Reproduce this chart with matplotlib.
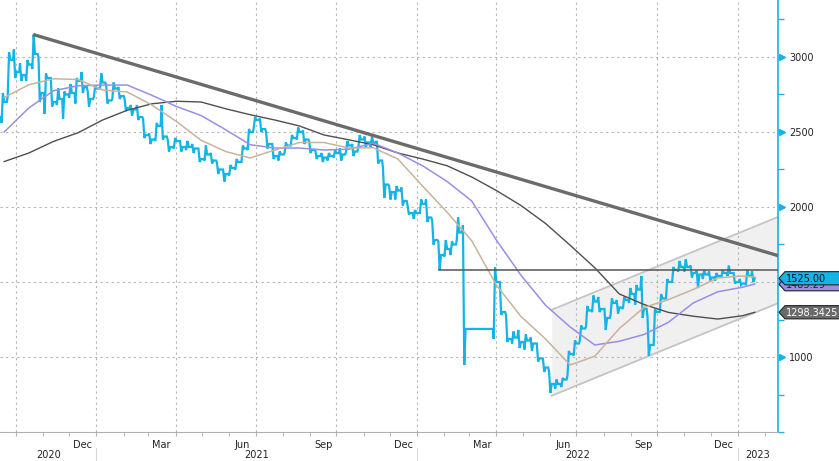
import matplotlib
matplotlib.use("Agg")
import matplotlib.pyplot as plt
from matplotlib.patches import Polygon
import pandas as pd

plt.rcParams['font.family'] = ['DejaVu Sans']

# ---------------- data (weekly bars) ----------------
week_start = '2020-09-18'
close = [2700, 2980, 2900, 2880, 2950, 3020, 2760, 2860, 2700, 2720,
         2750, 2760, 2840, 2800, 2720, 2790, 2830, 2710, 2790, 2740,
         2660, 2650, 2600, 2480, 2450, 2540, 2470, 2400, 2440, 2400,
         2400, 2390, 2320, 2350, 2310, 2250, 2220, 2260, 2300, 2390,
         2500, 2580, 2520, 2420, 2340, 2350, 2410, 2460, 2500, 2450,
         2380, 2340, 2330, 2340, 2360, 2350, 2410, 2370, 2450, 2430,
         2430, 2310, 2150, 2100, 2110, 2040, 1960, 1960, 2020, 1930,
         1780, 1680, 1720, 1750, 1830, 1187, 1187, 1187, 1187, 1187,
         1500, 1300, 1120, 1130, 1100, 1110, 1090, 990, 930, 820,
         820, 850, 1020, 1090, 1190, 1310, 1370, 1320, 1260, 1360,
         1330, 1380, 1420, 1450, 1320, 1080, 1300, 1390, 1500, 1580,
         1600, 1600, 1560, 1550, 1550, 1530, 1540, 1560, 1560, 1500,
         1490, 1540, 1525]
high = [2760, 3030, 3050, 2960, 2980, 3150, 3000, 2890, 2860, 2790,
        2770, 2820, 2860, 2900, 2770, 2810, 2890, 2810, 2830, 2800,
        2720, 2680, 2680, 2590, 2490, 2560, 2680, 2450, 2460, 2440,
        2440, 2420, 2390, 2410, 2360, 2300, 2250, 2280, 2320, 2410,
        2520, 2600, 2590, 2500, 2420, 2370, 2430, 2480, 2530, 2510,
        2440, 2380, 2360, 2360, 2380, 2390, 2440, 2420, 2480, 2470,
        2470, 2440, 2260, 2140, 2140, 2130, 2010, 1980, 2050, 2050,
        1910, 1770, 1780, 1770, 1930, 1880, 1187, 1187, 1187, 1187,
        1600, 1500, 1280, 1170, 1180, 1150, 1130, 1090, 990, 900,
        850, 860, 1040, 1110, 1210, 1340, 1410, 1400, 1320, 1390,
        1380, 1400, 1460, 1480, 1540, 1270, 1320, 1420, 1520, 1600,
        1640, 1650, 1610, 1580, 1580, 1570, 1560, 1580, 1610, 1560,
        1520, 1580, 1570]
low = [2560, 2740, 2860, 2840, 2840, 2920, 2700, 2620, 2670, 2680,
       2590, 2730, 2690, 2760, 2670, 2730, 2790, 2690, 2720, 2720,
       2640, 2610, 2580, 2460, 2420, 2440, 2450, 2370, 2390, 2370,
       2380, 2360, 2300, 2310, 2290, 2220, 2170, 2210, 2250, 2300,
       2380, 2530, 2500, 2390, 2320, 2310, 2360, 2410, 2450, 2420,
       2360, 2320, 2300, 2310, 2330, 2310, 2370, 2340, 2400, 2400,
       2400, 2290, 2060, 2050, 2050, 2010, 1950, 1920, 1960, 1900,
       1750, 1580, 1670, 1680, 1780, 947, 1187, 1187, 1187, 1187,
       1120, 1280, 1100, 1090, 1060, 1050, 1040, 970, 900, 760,
       790, 800, 880, 1010, 1110, 1200, 1300, 1300, 1180, 1280,
       1290, 1320, 1360, 1350, 1260, 1010, 1080, 1300, 1390, 1500,
       1570, 1570, 1530, 1460, 1520, 1510, 1510, 1530, 1540, 1490,
       1480, 1480, 1500]
first_open = 2600

# moving averages, sampled every 4 weeks (+ last week)
ma50 = [2730, 2815, 2855, 2850, 2780, 2767, 2680, 2570, 2445, 2370,
        2327, 2380, 2430, 2430, 2393, 2395, 2320, 2140, 1965, 1775,
        1480, 1270, 1120, 947, 1005, 1190, 1330, 1383, 1450, 1527,
        1540, 1533]
ma100 = [2500, 2660, 2775, 2808, 2813, 2813, 2745, 2670, 2610, 2515,
         2415, 2393, 2393, 2380, 2385, 2425, 2360, 2275, 2170, 2040,
         1780, 1545, 1345, 1200, 1080, 1105, 1150, 1232, 1360, 1435,
         1465, 1487]
ma200 = [2303, 2360, 2437, 2495, 2580, 2645, 2688, 2705, 2700, 2655,
         2615, 2580, 2540, 2480, 2448, 2415, 2360, 2320, 2275, 2200,
         2110, 2010, 1890, 1745, 1595, 1420, 1350, 1297, 1272, 1253,
         1275, 1298]

trend_dates = ['2020-10-21', '2023-02-16']
trend_vals = [3150, 1675]
hline_dates = ['2022-01-26', '2023-02-16']
hline_val = 1580
chan_dates = ['2022-06-03', '2023-02-16']
chan_low = [742, 1360]
chan_high = [1315, 1935]

last_price = 1525.00
last_ma100 = 1485.29
last_ma200 = 1298.3425

yticks = [1000, 1500, 2000, 2500, 3000]
month_labels = ['Dec', 'Mar', 'Jun', 'Sep', 'Dec', 'Mar', 'Jun', 'Sep', 'Dec']
month_label_dates = ['2020-12-16', '2021-03-16', '2021-06-16', '2021-09-16',
                     '2021-12-16', '2022-03-16', '2022-06-16', '2022-09-16',
                     '2022-12-16']
year_labels = ['2020', '2021', '2022', '2023']

# ---------------- colours ----------------
CYAN = '#14b5e6'
TAN = '#c8b39b'
PURPLE = '#9a8ee4'
DGRAY = '#4f4f4f'
TREND = '#6b6b6b'

dates = pd.date_range(week_start, periods=len(close), freq='7D')
opens = [first_open] + close[:-1]

# build a continuous OHLC zig-zag path
px, py = [], []
for d, o, h, l, c in zip(dates, opens, high, low, close):
    seq = [o, l, h, c] if c >= o else [o, h, l, c]
    offs = [-4, -3, -1.5, 0]
    for off, v in zip(offs, seq):
        px.append(d + pd.Timedelta(days=off))
        py.append(v)

ma_idx = list(range(0, len(close), 4))
if ma_idx[-1] != len(close) - 1:
    ma_idx.append(len(close) - 1)
ma_dates = dates[ma_idx]

fig = plt.figure(figsize=(8.39, 4.61), dpi=100)
ax = fig.add_axes([0, 29 / 461, 778 / 839, 432 / 461])

x0 = pd.Timestamp('2020-09-13 05:00')
x1 = pd.Timestamp('2023-02-15 12:00')
ax.set_xlim(x0, x1)
ax.set_ylim(500, 3380)

# channel
cd = pd.to_datetime(chan_dates)
ax.fill_between(cd, chan_low, chan_high, color='#f0f0f0', zorder=0.5, lw=0)
ax.plot(cd, chan_low, color='#c4c4c4', lw=1.3, zorder=1)
ax.plot(cd, chan_high, color='#c4c4c4', lw=1.3, zorder=1)

# grid
quarters = pd.date_range('2020-10-01', '2023-01-01', freq='QS')
months = pd.date_range('2020-10-01', '2023-02-01', freq='MS')
ax.set_xticks(quarters)
ax.set_xticks(months, minor=True)
ax.set_xticklabels([])
ax.tick_params(axis='x', which='both', length=3, color='#b0b0b0', labelbottom=False)
ax.grid(True, which='major', axis='both', color='#b5b5b5', lw=0.8,
        linestyle=(0, (2, 3)), zorder=0.8)
ax.set_axisbelow(True)

# y axis on right
ax.yaxis.tick_right()
ax.set_yticks(yticks)
ax.set_yticklabels([str(v) for v in yticks])
ax.set_yticks([500] + [v for v in range(750, 3300, 500)], minor=True)
ax.tick_params(axis='y', which='major', length=0, pad=8, labelsize=7, labelcolor='#222222')
ax.tick_params(axis='y', which='minor', length=4, width=1, color=CYAN, direction='out')
ytr = ax.get_yaxis_transform()
ax.plot([1.0 + 4 / 778] * len(yticks), yticks, linestyle='none', marker='>',
        markersize=4.5, color=CYAN, transform=ytr, clip_on=False, zorder=6)

for s in ['top', 'left']:
    ax.spines[s].set_visible(False)
ax.spines['right'].set_color(CYAN)
ax.spines['right'].set_linewidth(1.2)
ax.spines['bottom'].set_color('#b0b0b0')
ax.spines['bottom'].set_linestyle((0, (1, 1)))

# price
ax.plot(px, py, color=CYAN, lw=1.6, zorder=3, solid_joinstyle='miter')

# moving averages
ax.plot(ma_dates, ma200, color=DGRAY, lw=1.0, zorder=4)
ax.plot(ma_dates, ma100, color=PURPLE, lw=1.1, zorder=4)
ax.plot(ma_dates, ma50, color=TAN, lw=1.1, zorder=4)

# trend line and horizontal level
ax.plot(pd.to_datetime(trend_dates), trend_vals, color=TREND, lw=2.4, zorder=5,
        solid_capstyle='butt')
ax.plot(pd.to_datetime(hline_dates), [hline_val, hline_val], color='#555555',
        lw=1.1, zorder=4.5)

# x labels
xtr = ax.get_xaxis_transform()
for lab, d in zip(month_labels, pd.to_datetime(month_label_dates)):
    ax.text(d, -0.031, lab, transform=xtr, ha='center', va='center',
            fontsize=7, color='#222222', clip_on=False)
year_starts = pd.to_datetime(['2021-01-01', '2022-01-01', '2023-01-01'])
bounds = [x0] + list(year_starts) + [x1]
for lab, a, b in zip(year_labels, bounds[:-1], bounds[1:]):
    ax.text(a + (b - a) / 2, -0.053, lab, transform=xtr, ha='center', va='center',
            fontsize=7, color='#222222', clip_on=False)
for d in year_starts:
    ax.plot([d, d], [-0.038, -0.07], transform=xtr, color='#d8d8d8', lw=0.8,
            clip_on=False)

# value tags on the right
def tag(val, face, tc, txt, z):
    h = 44
    p = 1 / 778
    verts = [(1 + 1 * p, val), (1 + 7 * p, val + h), (1 + 80 * p, val + h),
             (1 + 80 * p, val - h), (1 + 7 * p, val - h)]
    ax.add_patch(Polygon(verts, closed=True, transform=ytr, clip_on=False,
                         fc=face, ec='#222222', lw=0.8, zorder=z))
    ax.text(1 + 8 * p, val - 3, txt, transform=ytr, va='center', ha='left',
            fontsize=7, color=tc, clip_on=False, zorder=z + 0.1)

tag(last_ma200, '#6a6a6a', 'white', f'{last_ma200:.4f}', 10)
tag(last_ma100, PURPLE, '#222222', f'{last_ma100:.2f}', 11)
tag(last_price, CYAN, '#111111', f'{last_price:.2f}', 12)

fig.savefig('out.png', dpi=100)
